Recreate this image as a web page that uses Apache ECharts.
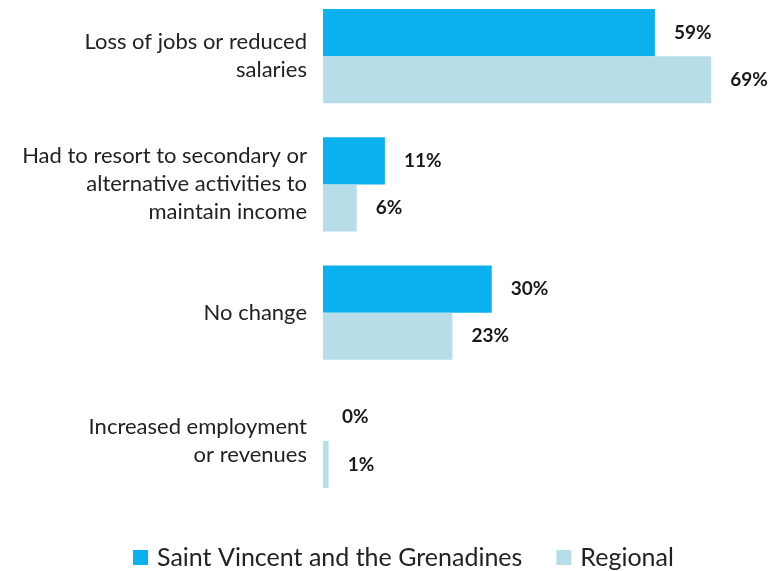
<!DOCTYPE html>
<html><head><meta charset="utf-8">
<script src="https://cdn.jsdelivr.net/npm/echarts@6/dist/echarts.min.js"></script>
<style>html,body{margin:0;padding:0;background:#fff;overflow:hidden;}#c{width:773px;height:579px;margin-top:-8px;}</style>
</head><body><div id="c"></div>
<script>
const categories = [
  "Loss of jobs or reduced\nsalaries",
  "Had to resort to secondary or\nalternative activities to\nmaintain income",
  "No change",
  "Increased employment\nor revenues"
];
const seriesNames = ["Saint Vincent and the Grenadines", "Regional"];
const svgValues = [59, 11, 30, 0];
const regionalValues = [69, 6, 23, 1];

const FONT = "Lato, 'Open Sans', sans-serif";
const chart = echarts.init(document.getElementById('c'), null, {renderer: 'canvas'});
const labelCfg = {
  show: true, position: 'right', distance: 19,
  formatter: p => p.value + '%',
  fontFamily: FONT, fontWeight: 'bold', fontSize: 19, color: '#1a1a1a'
};
chart.setOption({
  animation: false,
  backgroundColor: '#fff',
  grid: {left: 323, right: -2, top: 0, bottom: 66, containLabel: false},
  xAxis: {type: 'value', min: 0, max: 80, show: false},
  yAxis: {
    type: 'category', data: categories, inverse: true,
    axisLine: {show: false}, axisTick: {show: false},
    axisLabel: {margin: 16, fontFamily: FONT, fontSize: 22, color: '#222', lineHeight: 28, align: 'right'}
  },
  legend: {
    top: 548, left: 128, itemWidth: 15, itemHeight: 15, itemGap: 34,
    icon: 'rect',
    textStyle: {fontFamily: FONT, fontSize: 25, color: '#222', padding: [0, 0, 0, 4]},
    data: seriesNames
  },
  series: [
    {name: seriesNames[0], type: 'bar', data: svgValues, barGap: '0%', barCategoryGap: '26.5%',
     itemStyle: {color: '#0BB0EF'}, label: labelCfg},
    {name: seriesNames[1], type: 'bar', data: regionalValues, barGap: '0%', barCategoryGap: '26.5%',
     itemStyle: {color: '#B7DDE8'}, label: labelCfg}
  ]
});
</script></body></html>
